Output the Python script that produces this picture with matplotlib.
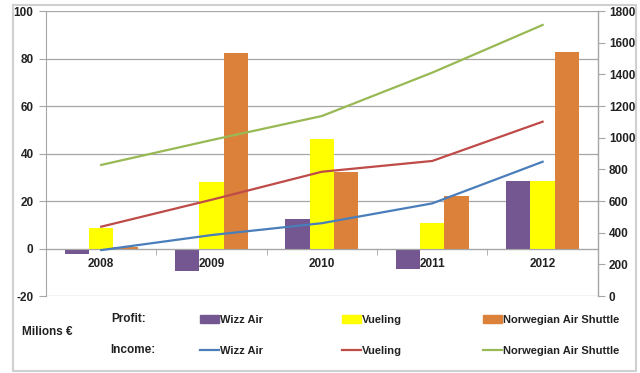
import matplotlib.pyplot as plt
import matplotlib.patches as mpatches
import matplotlib.lines as mlines
import numpy as np

years = ['2008', '2009', '2010', '2011', '2012']

# profit (left axis, millions EUR)
profit_wizz = [-2.5, -9.5, 12.4, -8.6, 28.6]
profit_vueling = [8.7, 28.0, 46.0, 10.9, 28.5]
profit_norwegian = [0.6, 82.4, 32.2, 22.1, 82.9]

# income (right axis, millions EUR)
income_wizz = [290, 385, 460, 585, 848]
income_vueling = [438, 608, 785, 853, 1101]
income_norwegian = [828, 985, 1137, 1411, 1712]

c_wizz = '#745790'
c_vue = '#FFFF00'
c_nor = '#DB8139'
l_wizz = '#4A7EBB'
l_vue = '#BE4B48'
l_nor = '#98B954'
txt = '#222222'

plt.rcParams['font.family'] = 'Liberation Sans'
plt.rcParams['font.weight'] = 'bold'
plt.rcParams['font.size'] = 8.5
plt.rcParams['axes.unicode_minus'] = False

fig = plt.figure(figsize=(6.4, 3.73), dpi=100)
ax = fig.add_axes([0.072, 0.2064, 0.862, 0.764])
ax2 = ax.twinx()

x = np.arange(len(years))
w = 0.221
ax.bar(x - w, profit_wizz, w, color=c_wizz, zorder=2)
ax.bar(x, profit_vueling, w, color=c_vue, zorder=2)
ax.bar(x + w, profit_norwegian, w, color=c_nor, zorder=2)

ax2.plot(x, income_wizz, color=l_wizz, lw=1.6)
ax2.plot(x, income_vueling, color=l_vue, lw=1.6)
ax2.plot(x, income_norwegian, color=l_nor, lw=1.6)

ax.set_xlim(-0.5, 4.5)
ax.set_ylim(-20, 100)
ax.set_yticks(range(-20, 101, 20))
ax2.set_ylim(0, 1800)
ax2.set_yticks(range(0, 1801, 200))

ax.yaxis.grid(True, color='#a6a6a6', lw=0.9, zorder=0)
ax.set_axisbelow(True)

ax.spines['top'].set_visible(False)
ax2.spines['top'].set_visible(False)
ax2.spines['bottom'].set_visible(False)
ax.spines['bottom'].set_position(('data', 0))
for sp in ['left', 'bottom']:
    ax.spines[sp].set_color('#a6a6a6')
ax2.spines['right'].set_color('#a6a6a6')
ax2.spines['left'].set_visible(False)

ax.set_xticks(x)
ax.set_xticklabels(years)
ax.set_xticks(np.arange(0.5, 4.5, 1), minor=True)
ax.tick_params(axis='x', which='major', length=0, pad=7, colors=txt)
ax.tick_params(axis='x', which='minor', length=4, color='#a6a6a6', direction='out')
ax.tick_params(axis='y', length=5, color='#a6a6a6', colors=txt, pad=4)
ax2.tick_params(axis='y', length=5, color='#a6a6a6', colors=txt, pad=3)

# outer frame
fig.patches.append(mpatches.Rectangle((0.02, 0.005), 0.973, 0.982, transform=fig.transFigure,
                                      fill=False, edgecolor='#d0d0d0', lw=1.5))

names = ['Wizz Air', 'Vueling', 'Norwegian Air Shuttle']
bar_h = [mpatches.Patch(color=c) for c in (c_wizz, c_vue, c_nor)]
line_h = [mlines.Line2D([], [], color=c, lw=1.6) for c in (l_wizz, l_vue, l_nor)]
xs = [200, 342, 483]

for handles, yy in ((bar_h, 1 - 320 / 373), (line_h, 1 - 351 / 373)):
    for h, name, xp in zip(handles, names, xs):
        fig.legend([h], [name], loc='center left', bbox_to_anchor=(xp / 640, yy),
                   frameon=False, handlelength=1.7, handleheight=0.75, handletextpad=0.1,
                   borderpad=0, borderaxespad=0, labelcolor=txt,
                   prop={'weight': 'bold', 'size': 8})

fig.text(111 / 640, 1 - 319 / 373, 'Profit:', color=txt, ha='left', va='center')
fig.text(110 / 640, 1 - 350 / 373, 'Income:', color=txt, ha='left', va='center')
fig.text(22 / 640, 1 - 332 / 373, 'Milions €', color=txt, ha='left', va='center')

fig.savefig('out.png', dpi=100)
